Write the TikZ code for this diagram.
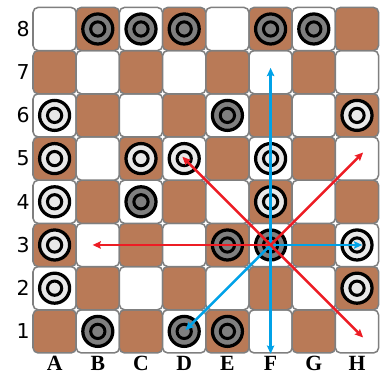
\documentclass[tikz,border=0pt]{standalone}
\usepackage{fontspec}
\usepackage{tikz}
\usetikzlibrary{arrows.meta}
\usepackage{xcolor}
\newfontfamily\rankfont{DejaVu Sans}
\newfontfamily\filefont{Liberation Serif}
\definecolor{squarebrown}{RGB}{185,122,87}
\definecolor{squareedge}{RGB}{127,127,127}
\definecolor{mangray}{RGB}{127,127,127}
\definecolor{manlight}{RGB}{232,232,232}
\definecolor{moveblue}{RGB}{0,162,232}
\definecolor{movered}{RGB}{237,28,36}

\begin{document}
\begin{tikzpicture}[
            square/.style={rectangle, draw=squareedge, line width=0.035cm, rounded corners=0.12cm, minimum size=1cm, inner sep=0pt, fill=white},
            man/.style={circle, draw=black, line width=0.075cm, minimum size=0.695cm, inner sep=0pt},
            core/.style={circle, draw=black, line width=0.07cm, minimum size=0.33cm, inner sep=0pt},
            rank/.style={font=\rankfont\fontsize{13.5}{14}\selectfont, inner sep=0pt},
            file/.style={font=\filefont\bfseries\fontsize{14.3}{15}\selectfont, inner sep=0pt},
            redmove/.style={-{Stealth[length=0.19cm, width=0.17cm, inset=0.03cm]}, line width=0.06cm, draw=movered},
            bluemove/.style={-{Stealth[length=0.19cm, width=0.17cm, inset=0.03cm]}, line width=0.06cm, draw=moveblue}
        ]
            \useasboundingbox (-0.764,-0.532) rectangle (8.125,8.171);

            % --- BOARD ---
            \foreach \f [count=\i] in {a,...,h} {
                \foreach \r in {1,...,8} {
                    \pgfmathtruncatemacro{\tint}{mod(\i+\r,2)}
                    \ifnum\tint=0
                        \node[square, fill=squarebrown] (\f\r) at (\i-0.5,\r-0.5) {};
                    \else
                        \node[square] (\f\r) at (\i-0.5,\r-0.5) {};
                    \fi
                }
            }

            % --- LABELS ---
            \foreach \r in {1,...,8}
                \node[rank] (rank\r) at (-0.23,\r-0.5) {\r};
            \foreach \f [count=\i] in {A,B,C,D,E,F,G,H}
                \node[file] (file\f) at (\i-0.5,-0.25) {\f};

            % --- PIECES ---
            \foreach \sq in {b8,c8,d8,f8,g8,e6,c4,e3,f3,b1,d1,e1} {
                \node[man, fill=mangray] (man-\sq) at (\sq) {};
                \node[core, fill=mangray] (core-\sq) at (\sq) {};
            }
            \foreach \sq in {a6,h6,a5,c5,d5,f5,a4,f4,a3,h3,a2,h2} {
                \node[man, fill=manlight] (man-\sq) at (\sq) {};
                \node[core, fill=manlight] (core-\sq) at (\sq) {};
            }

            % --- MOVES ---
            \draw[bluemove, shorten >=-0.1cm] (f3.center) -- (f7.center);
            \draw[bluemove] (f3.center) -- (f1.south);
            \draw[bluemove, shorten >=-0.12cm] (f3.center) -- (h3.center);
            \draw[bluemove, shorten >=0.04cm] (f3.center) -- (d1.center);

            \draw[redmove, shorten >=-0.06cm] (f3.center) -- (d5.center);
            \draw[redmove, shorten >=-0.2cm] (f3.center) -- (h5.center);
            \draw[redmove, shorten >=-0.2cm] (f3.center) -- (h1.center);
            \draw[redmove, shorten >=-0.12cm] (f3.center) -- (b3.center);
        \end{tikzpicture}
\end{document}
